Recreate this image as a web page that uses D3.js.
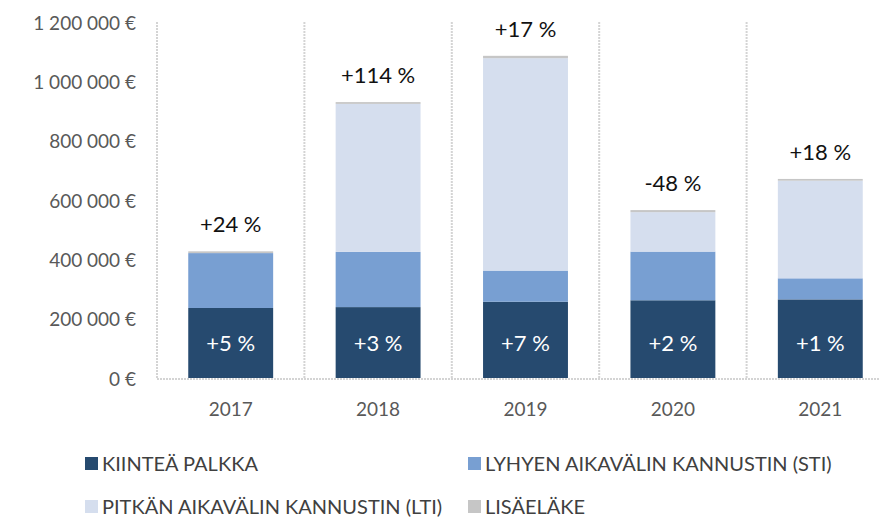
<!DOCTYPE html>
<html>
<head>
<meta charset="utf-8">
<script src="https://cdn.jsdelivr.net/npm/d3@7"></script>
<style>
  body { margin: 0; background: #fff; }
  svg { display: block; }
  .ytick text, .xtick text { fill: #595959; }
</style>
</head>
<body>
<svg id="svg" width="879" height="518"></svg>
<script>
const years = ['2017', '2018', '2019', '2020', '2021'];
const seriesNames = ['KIINTEÄ PALKKA', 'LYHYEN AIKAVÄLIN KANNUSTIN (STI)', 'PITKÄN AIKAVÄLIN KANNUSTIN (LTI)', 'LISÄELÄKE'];
const fixedPay = [236000, 239000, 257000, 262000, 265000];
const sti = [185000, 186000, 105000, 164000, 71000];
const lti = [0, 499000, 716000, 133000, 329000];
const pension = [6000, 6000, 8000, 7000, 6000];
const totalChange = ['+24 %', '+114 %', '+17 %', '-48 %', '+18 %'];
const fixedChange = ['+5 %', '+3 %', '+7 %', '+2 %', '+1 %'];
const yTicks = [0, 200000, 400000, 600000, 800000, 1000000, 1200000];
const colors = ['#264a6f', '#789fd2', '#d5deee', '#c6c6c6'];

const drawChart = function() {
  const svg = d3.select('#svg');
  const left = 157, right = 894, top = 22, bottom = 378;

  const x = d3.scaleBand().domain(years).range([left, right]).paddingInner(0.424).paddingOuter(0.212);
  const y = d3.scaleLinear().domain([0, 1200000]).range([bottom, top]);

  const fmt = d3.formatLocale({ decimal: ',', thousands: '\u00a0', grouping: [3], currency: ['', '\u00a0€'] }).format('$,.0f');

  // y tick labels
  const yAxis = svg.append('g').classed('ytick', true);
  yAxis.selectAll('text')
    .data(yTicks)
    .enter()
    .append('text')
    .attr('x', 136)
    .attr('y', d => y(d) + 1)
    .attr('dy', '0.35em')
    .attr('text-anchor', 'end')
    .style('font-family', 'Lato, "Open Sans", sans-serif')
    .style('font-size', '19px')
    .text(d => fmt(d));

  // dotted category dividers
  const step = x.step();
  const dividers = d3.range(0, years.length + 1).map(i => left + i * step);
  svg.append('g')
    .selectAll('line')
    .data(dividers)
    .enter()
    .append('line')
    .attr('x1', d => d)
    .attr('x2', d => d)
    .attr('y1', top)
    .attr('y2', bottom)
    .style('stroke', '#d4d4d4')
    .style('stroke-width', 2)
    .style('stroke-dasharray', '2,1');
  svg.append('line')
    .attr('x1', left)
    .attr('x2', right)
    .attr('y1', bottom + 1)
    .attr('y2', bottom + 1)
    .style('stroke', '#d4d4d4')
    .style('stroke-width', 2)
    .style('stroke-dasharray', '2,1');

  // stacked bars
  const rows = years.map((yr, i) => ({ year: yr, s0: fixedPay[i], s1: sti[i], s2: lti[i], s3: pension[i] }));
  const stack = d3.stack().keys(['s0', 's1', 's2', 's3'])(rows);
  svg.append('g')
    .selectAll('g')
    .data(stack)
    .enter()
    .append('g')
    .attr('fill', (d, i) => colors[i])
    .selectAll('rect')
    .data(d => d)
    .enter()
    .append('rect')
    .attr('x', d => x(d.data.year))
    .attr('width', x.bandwidth())
    .attr('y', d => y(d[1]))
    .attr('height', d => y(d[0]) - y(d[1]));

  // total change labels
  const totals = rows.map(r => r.s0 + r.s1 + r.s2 + r.s3);
  svg.append('g')
    .selectAll('text')
    .data(years)
    .enter()
    .append('text')
    .attr('x', d => x(d) + x.bandwidth() / 2)
    .attr('y', (d, i) => y(totals[i]) - 19)
    .attr('text-anchor', 'middle')
    .style('font-family', 'Lato, "Open Sans", sans-serif')
    .style('font-size', '22px')
    .style('fill', '#111')
    .text((d, i) => totalChange[i]);

  // fixed pay change labels
  svg.append('g')
    .selectAll('text')
    .data(years)
    .enter()
    .append('text')
    .attr('x', d => x(d) + x.bandwidth() / 2)
    .attr('y', bottom - 27)
    .attr('text-anchor', 'middle')
    .style('font-family', 'Lato, "Open Sans", sans-serif')
    .style('font-size', '22px')
    .style('fill', '#fff')
    .text((d, i) => fixedChange[i]);

  // x labels
  svg.append('g').classed('xtick', true)
    .selectAll('text')
    .data(years)
    .enter()
    .append('text')
    .attr('x', d => x(d) + x.bandwidth() / 2)
    .attr('y', 416)
    .attr('text-anchor', 'middle')
    .style('font-family', 'Lato, "Open Sans", sans-serif')
    .style('font-size', '19px')
    .text(d => d);

  // legend
  const legendPos = [[85, 464], [468, 464], [85, 507], [468, 507]];
  const legend = svg.append('g')
    .selectAll('g')
    .data(seriesNames)
    .enter()
    .append('g')
    .attr('transform', (d, i) => 'translate(' + legendPos[i][0] + ',' + legendPos[i][1] + ')');
  legend.append('rect')
    .attr('x', 0)
    .attr('y', -7)
    .attr('width', 13)
    .attr('height', 13)
    .attr('fill', (d, i) => colors[i]);
  legend.append('text')
    .attr('x', 17)
    .attr('y', 0)
    .attr('dy', '0.35em')
    .style('font-family', 'Lato, "Roboto", sans-serif')
    .style('font-size', '20px')
    .style('fill', '#404040')
    .text(d => d);
};

drawChart();
</script>
</body>
</html>
